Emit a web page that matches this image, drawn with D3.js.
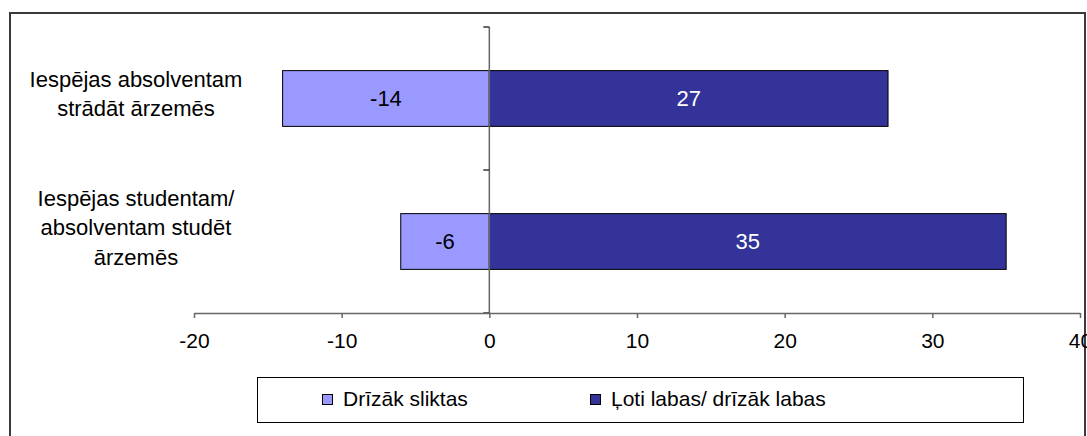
<!DOCTYPE html>
<html>
<head>
<meta charset="utf-8">
<script src="https://cdn.jsdelivr.net/npm/d3@7"></script>
<style>
  body { margin: 0; background: #fff; }
  svg { display: block; font-family: "Liberation Sans", Arial, sans-serif; }
</style>
</head>
<body>
<div id="chart"></div>
<script>
// data
const categories = ["Iespējas absolventam strādāt ārzemēs", "Iespējas studentam/ absolventam studēt ārzemēs"]
const categoryLines = [["Iespējas absolventam", "strādāt ārzemēs"], ["Iespējas studentam/", "absolventam studēt", "ārzemēs"]]
const badValues = [-14, -6]
const goodValues = [27, 35]
const seriesNames = ["Drīzāk sliktas", "Ļoti labas/ drīzāk labas"]
const seriesColors = ["#9999ff", "#333399"]
const xTicks = [-20, -10, 0, 10, 20, 30, 40]

const W = 1087, H = 436

const svg = d3.select('#chart')
  .append('svg')
  .attr('width', W)
  .attr('height', H)

svg.append('rect')
  .attr('width', W)
  .attr('height', H)
  .style('fill', '#fff')

// outer frame (bottom runs off the picture)
svg.append('rect')
  .attr('x', 10)
  .attr('y', 13)
  .attr('width', 1075)
  .attr('height', 460)
  .style('fill', 'none')
  .style('stroke', '#3a3a3a')
  .style('stroke-width', 2)

const x = d3.scaleLinear().domain([-20, 40]).range([194, 1080])
const y = d3.scaleBand()
  .domain(categories)
  .range([27, 313])
  .paddingInner(0.61)
  .paddingOuter(0.305)

const rows = categories.map((c, i) => ({ cat: c, bad: badValues[i], good: goodValues[i], lines: categoryLines[i] }))

// bars
svg.selectAll('.bad')
  .data(rows)
  .enter()
  .append('rect')
  .attr('class', 'bad')
  .attr('x', d => x(d.bad))
  .attr('y', d => y(d.cat))
  .attr('width', d => x(0) - x(d.bad))
  .attr('height', y.bandwidth())
  .style('fill', seriesColors[0])
  .style('stroke', '#000')
  .style('stroke-width', 1)

svg.selectAll('.good')
  .data(rows)
  .enter()
  .append('rect')
  .attr('class', 'good')
  .attr('x', x(0))
  .attr('y', d => y(d.cat))
  .attr('width', d => x(d.good) - x(0))
  .attr('height', y.bandwidth())
  .style('fill', seriesColors[1])
  .style('stroke', '#000')
  .style('stroke-width', 1)

// value labels
svg.selectAll('.badLabel')
  .data(rows)
  .enter()
  .append('text')
  .attr('x', d => (x(d.bad) + x(0)) / 2)
  .attr('y', d => y(d.cat) + y.bandwidth() / 2)
  .attr('dy', '0.35em')
  .attr('text-anchor', 'middle')
  .style('font-size', '22px')
  .style('fill', '#000')
  .text(d => d.bad)

svg.selectAll('.goodLabel')
  .data(rows)
  .enter()
  .append('text')
  .attr('x', d => (x(d.good) + x(0)) / 2)
  .attr('y', d => y(d.cat) + y.bandwidth() / 2)
  .attr('dy', '0.35em')
  .attr('text-anchor', 'middle')
  .style('font-size', '22px')
  .style('fill', '#fff')
  .text(d => d.good)

// vertical axis at zero, ticks on the category boundaries
const yTop = y.range()[0], yBottom = y.range()[1]
svg.append('line')
  .attr('x1', x(0)).attr('x2', x(0))
  .attr('y1', yTop).attr('y2', yBottom)
  .style('stroke', '#666')
  .style('stroke-width', 1.5)

const bounds = d3.range(categories.length + 1).map(i => yTop + i * y.step())
svg.selectAll('.ytick')
  .data(bounds)
  .enter()
  .append('line')
  .attr('x1', x(0) - 6).attr('x2', x(0))
  .attr('y1', d => d).attr('y2', d => d)
  .style('stroke', '#333')
  .style('stroke-width', 1.5)

// category labels (wrapped like excel does, longer blocks sit higher)
const lh = 29.5
const catG = svg.selectAll('.cat')
  .data(rows)
  .enter()
  .append('text')
  .attr('text-anchor', 'middle')
  .style('font-size', '22px')
  .style('fill', '#000')

catG.selectAll('tspan')
  .data(d => d.lines.map((t, i) => ({ t: t, i: i, n: d.lines.length, c: y(d.cat) + y.bandwidth() / 2 })))
  .enter()
  .append('tspan')
  .attr('x', 136)
  .attr('y', d => d.c + 12 + d.i * lh - (d.n - 1) * 24)
  .text(d => d.t)

// horizontal axis
const xAxis = svg.append('g')
  .attr('transform', `translate(0,${yBottom})`)
  .call(d3.axisBottom(x).tickValues(xTicks).tickSize(5).tickPadding(15).tickSizeOuter(0).tickFormat(d => String(d)))

xAxis.select('.domain').style('stroke', '#666').style('stroke-width', 1.5)
xAxis.selectAll('.tick line').style('stroke', '#666').style('stroke-width', 1.5)
xAxis.selectAll('.tick text')
  .style('font-family', '"Liberation Sans", Arial, sans-serif')
  .style('font-size', '21px')
  .style('fill', '#000')

// legend
const legend = svg.append('g')
legend.append('rect')
  .attr('x', 257.5)
  .attr('y', 377.5)
  .attr('width', 766)
  .attr('height', 45)
  .style('fill', '#fff')
  .style('stroke', '#000')
  .style('stroke-width', 1)

const legendX = [322, 590]
legend.selectAll('.sw')
  .data(seriesNames)
  .enter()
  .append('rect')
  .attr('x', (d, i) => legendX[i] + 0.5)
  .attr('y', 394.5)
  .attr('width', 10)
  .attr('height', 10)
  .style('fill', (d, i) => seriesColors[i])
  .style('stroke', '#000')
  .style('stroke-width', 1)

legend.selectAll('.lt')
  .data(seriesNames)
  .enter()
  .append('text')
  .attr('x', (d, i) => legendX[i] + 21)
  .attr('y', 406)
  .style('font-size', '21px')
  .style('fill', '#000')
  .text(d => d)
</script>
</body>
</html>
